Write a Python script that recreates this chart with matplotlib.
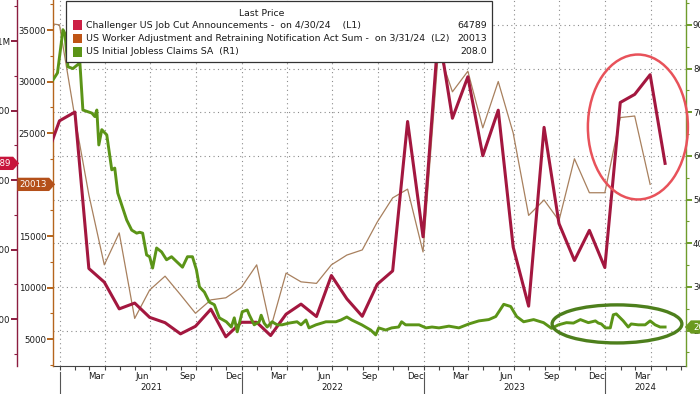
import matplotlib
matplotlib.use("Agg")
import matplotlib.pyplot as plt
from matplotlib.patches import Ellipse, Rectangle
from matplotlib.path import Path
from matplotlib.transforms import blended_transform_factory
import pandas as pd

# Challenger US job cut announcements, month end (L1)
cuts_dates = pd.date_range("2020-12-01", "2024-05-01", freq="MS") - pd.Timedelta(days=1)
cuts_values = [
    64797, 77030,
    79552, 34531, 30603, 22913, 24586, 20476, 18942, 15723, 17895, 22822, 14875, 19052,
    19064, 15245, 21387, 24286, 20712, 32517, 25810, 20781, 29989, 33843, 76835, 43651,
    102943, 77770, 89703, 66995, 80089, 40709, 23697, 75151, 47457, 36836, 45510, 34817,
    82307, 84638, 90309, 64789,
]

# WARN notices sum, month end (L2)
warn_dates = pd.date_range("2020-12-01", "2024-04-01", freq="MS") - pd.Timedelta(days=1)
warn_values = [
    35700, 35500,
    26500, 19000, 12200, 15300, 7000, 9750, 11100, 9300, 7500, 8800, 9000, 10000,
    12200, 6050, 11400, 10550, 10400, 12200, 13150, 13650, 16350, 18700, 19550, 13450,
    33000, 29000, 31000, 25500, 30000, 25000, 17000, 18500, 16500, 22500, 19200, 19200,
    26500, 26650, 20013,
]

# Initial jobless claims SA, thousands (R1)
claims_dates = [
    "2020-12-18", "2020-12-27", "2021-01-07", "2021-01-11", "2021-01-17", "2021-01-27",
    "2021-02-10", "2021-02-16", "2021-03-06", "2021-03-12", "2021-03-16", "2021-03-20",
    "2021-03-26", "2021-04-05", "2021-04-15", "2021-04-21", "2021-04-27", "2021-05-15",
    "2021-05-25", "2021-06-04", "2021-06-10", "2021-06-16", "2021-06-24", "2021-06-30",
    "2021-07-06", "2021-07-14", "2021-07-24", "2021-08-03", "2021-08-13", "2021-08-23",
    "2021-09-04", "2021-09-14", "2021-09-24", "2021-10-02", "2021-10-08", "2021-10-18",
    "2021-10-28", "2021-11-07", "2021-11-17", "2021-12-01", "2021-12-11", "2021-12-17",
    "2021-12-23", "2022-01-02", "2022-01-12", "2022-01-16", "2022-01-26", "2022-02-05",
    "2022-02-09", "2022-02-15", "2022-02-21", "2022-03-03", "2022-03-13", "2022-03-23",
    "2022-04-06", "2022-04-22", "2022-04-30", "2022-05-10", "2022-05-16", "2022-05-30",
    "2022-06-19", "2022-07-09", "2022-07-19", "2022-07-31", "2022-08-10", "2022-08-30",
    "2022-09-17", "2022-09-27", "2022-10-03", "2022-10-17", "2022-10-29", "2022-11-12",
    "2022-11-18", "2022-11-26", "2022-12-23", "2023-01-06", "2023-01-18", "2023-02-01",
    "2023-02-21", "2023-03-13", "2023-04-02", "2023-04-22", "2023-05-12", "2023-05-26",
    "2023-06-11", "2023-06-25", "2023-07-07", "2023-07-21", "2023-08-10", "2023-08-30",
    "2023-09-15", "2023-09-29", "2023-10-15", "2023-10-29", "2023-11-12", "2023-11-28",
    "2023-12-12", "2023-12-18", "2023-12-24", "2024-01-01", "2024-01-11", "2024-01-17",
    "2024-01-23", "2024-02-06", "2024-02-16", "2024-02-22", "2024-03-07", "2024-03-21",
    "2024-03-31", "2024-04-10", "2024-04-20", "2024-04-30",
]
claims_values = [
    774, 790, 889, 880, 804, 800,
    813, 705, 698, 690, 705, 625,
    660, 648, 568, 572, 515, 453,
    430, 423, 425, 423, 373, 369,
    343, 389, 380, 362, 369, 358,
    345, 369, 369, 339, 300, 288,
    265, 259, 229, 220, 208, 229,
    197, 243, 247, 236, 213, 220,
    235, 217, 208, 220, 213, 213,
    217, 220, 213, 224, 206, 213,
    220, 220, 224, 231, 224, 213,
    201, 190, 206, 201, 206, 208,
    220, 213, 213, 206, 208, 206,
    210, 206, 215, 222, 225, 232,
    260, 255, 232, 220, 225, 218,
    205, 213, 218, 217, 225, 218,
    222, 217, 215, 206, 206, 236,
    238, 222, 208, 215, 213, 213,
    222, 213, 208, 208,
]

legend_labels = [
    "Challenger US Job Cut Announcements -  on 4/30/24    (L1)",
    "US Worker Adjustment and Retraining Notification Act Sum -  on 3/31/24  (L2)",
    "US Initial Jobless Claims SA  (R1)",
]
legend_values = ["64789", "20013", "208.0"]

RED_LINE = "#a3173f"
RED_KEY = "#cc1f45"
BROWN_LINE = "#a8805e"
BROWN_KEY = "#bf5516"
GREEN = "#5b9417"
TEXT = "#1a1a1a"

W, H = 700, 394
FS = 6.2
LEG_FS = 6.75


def fx(px):
    return px / W


def fy(py):
    return 1 - py / H


def tag_style(pointing):
    def style(x0, y0, width, height, mutation_size):
        pad = 0.25 * mutation_size
        x0, y0 = x0 - pad, y0 - pad
        x1, y1 = x0 + width + 2 * pad, y0 + height + 2 * pad
        tip = (y1 - y0) * 0.45
        ym = (y0 + y1) / 2
        if pointing == "right":
            verts = [(x0, y0), (x1, y0), (x1 + tip, ym), (x1, y1), (x0, y1), (x0, y0)]
        else:
            verts = [(x0, y0), (x1, y0), (x1, y1), (x0, y1), (x0 - tip, ym), (x0, y0)]
        return Path(verts, closed=True)
    return style


plt.rcParams["font.family"] = ["DejaVu Sans"]
fig = plt.figure(figsize=(W / 100, H / 100), dpi=100)

ax = fig.add_axes([fx(53), fy(366), fx(686) - fx(53), 366 / H])
ax_l2 = ax.twinx()
ax_l1 = ax.twinx()
ax_r1 = ax.twinx()

x_start, x_end = pd.Timestamp("2020-12-18"), pd.Timestamp("2024-06-11")
ax.set_xlim(x_start, x_end)

# base axes: grid and date axis
r1_lim = (118.7, 957)
ax.set_ylim(*r1_lim)
ax.set_yticks(range(200, 1000, 100))
ax.tick_params(axis="y", left=False, labelleft=False)
ax.grid(axis="y", color="#8c8c8c", linestyle=(0, (1, 3)), linewidth=0.8)
for q in pd.date_range("2021-01-01", "2024-04-01", freq="QS"):
    ax.axvline(q, color="#8c8c8c", linestyle=(0, (1, 3)), linewidth=0.8, zorder=0)
for s in ["left", "right", "top"]:
    ax.spines[s].set_visible(False)
ax.spines["bottom"].set_color("#444444")
ax.spines["bottom"].set_linewidth(0.8)

label_months = [d for d in pd.date_range("2021-03-01", "2024-03-01", freq="MS") if d.month in (3, 6, 9, 12)]
ax.set_xticks([d + pd.Timedelta(days=14) for d in label_months])
ax.set_xticklabels([d.strftime("%b") for d in label_months], fontsize=FS, color=TEXT)
ax.set_xticks(pd.date_range("2021-01-01", "2024-06-01", freq="MS"), minor=True)
ax.tick_params(axis="x", which="major", length=0, pad=4.5)
ax.tick_params(axis="x", which="minor", length=3, width=0.8, color="#444444", direction="out")

xt = blended_transform_factory(ax.transData, ax.transAxes)
year_starts = [pd.Timestamp(f"{y}-01-01") for y in (2021, 2022, 2023, 2024)]
for i, ys in enumerate(year_starts):
    ax.plot([ys, ys], [-0.016, -0.08], color="#555555", lw=0.8, transform=xt, clip_on=False)
    ye = year_starts[i + 1] if i + 1 < len(year_starts) else x_end
    mid = ys + (ye - ys) / 2
    ax.text(mid, -0.06, str(ys.year), transform=xt, ha="center", va="center",
            fontsize=FS, color=TEXT)

# L2 axis: WARN notices
ax_l2.plot(warn_dates, warn_values, color=BROWN_LINE, lw=0.9, zorder=2)
ax_l2.set_ylim(2379, 37913)
ax_l2.yaxis.tick_left()
ax_l2.set_yticks(range(5000, 40000, 5000))
ax_l2.set_yticklabels([str(v) for v in range(5000, 40000, 5000)], fontsize=FS, color=TEXT)
ax_l2.set_yticks(range(2500, 40000, 2500), minor=True)
ax_l2.tick_params(axis="y", which="major", length=4, width=1.4, color="#b5651d", pad=1)
ax_l2.tick_params(axis="y", which="minor", length=2.5, width=0.8, color="#b5651d")
for s in ["right", "top", "bottom"]:
    ax_l2.spines[s].set_visible(False)
ax_l2.spines["left"].set_color("#b5651d")
ax_l2.spines["left"].set_linewidth(1.0)

# L1 axis: Challenger job cuts, outer left
ax_l1.plot(cuts_dates, cuts_values, color=RED_LINE, lw=2.2, zorder=3)
ax_l1.set_ylim(6475, 111800)
ax_l1.yaxis.tick_left()
ax_l1.spines["left"].set_position(("outward", 36 * 72 / 100))
ax_l1.set_yticks([20000, 40000, 60000, 80000, 100000])
ax_l1.set_yticklabels(["20000", "40000", "60000", "80000", "0.1M"], fontsize=FS, color=TEXT)
ax_l1.set_yticks(range(10000, 111000, 10000), minor=True)
ax_l1.tick_params(axis="y", which="major", length=4, width=1.4, color="#8c1d40", pad=1)
ax_l1.tick_params(axis="y", which="minor", length=2.5, width=0.8, color="#8c1d40")
for s in ["right", "top", "bottom"]:
    ax_l1.spines[s].set_visible(False)
ax_l1.spines["left"].set_color("#8c1d40")
ax_l1.spines["left"].set_linewidth(1.0)

# R1 axis: initial jobless claims
ax_r1.plot(pd.to_datetime(claims_dates), claims_values, color=GREEN, lw=2.1, zorder=4)
ax_r1.set_ylim(*r1_lim)
ax_r1.yaxis.tick_right()
ax_r1.set_yticks(range(200, 1000, 100))
ax_r1.set_yticklabels([str(v) for v in range(200, 1000, 100)], fontsize=FS, color=TEXT)
ax_r1.set_yticks(range(150, 960, 50), minor=True)
ax_r1.tick_params(axis="y", which="major", length=4, width=1.4, color="#6f9c2c", pad=1)
ax_r1.tick_params(axis="y", which="minor", length=2.5, width=0.8, color="#6f9c2c")
for s in ["left", "top", "bottom"]:
    ax_r1.spines[s].set_visible(False)
ax_r1.spines["right"].set_color("#6f9c2c")
ax_r1.spines["right"].set_linewidth(1.0)

# last-value badges on the axes
badge = dict(fontsize=FS, color="white", va="center", zorder=30)
fig.text(fx(11), cuts_values[-1], legend_values[0], ha="right",
         transform=blended_transform_factory(fig.transFigure, ax_l1.transData),
         bbox=dict(boxstyle=tag_style("right"), fc="#c8143c", ec="none"), **badge)
fig.text(fx(47), warn_values[-1], legend_values[1], ha="right",
         transform=blended_transform_factory(fig.transFigure, ax_l2.transData),
         bbox=dict(boxstyle=tag_style("right"), fc="#b4501a", ec="none"), **badge)
fig.text(fx(693), claims_values[-1], legend_values[2], ha="left",
         transform=blended_transform_factory(fig.transFigure, ax_r1.transData),
         bbox=dict(boxstyle=tag_style("left"), fc="#6a9a1f", ec="none"), **badge)

# highlight ellipses
ax_r1.add_patch(Ellipse((0.924, 0.653), 0.158, 0.396, transform=ax_r1.transAxes,
                        fill=False, ec="#e8525a", lw=1.8, clip_on=False, zorder=10))
ax_r1.add_patch(Ellipse((0.891, 0.115), 0.205, 0.104, transform=ax_r1.transAxes,
                        fill=False, ec="#4d7f1c", lw=2.4, clip_on=False, zorder=10))

# legend box
fig.add_artist(Rectangle((fx(66), fy(62)), fx(492) - fx(66), 61 / H, transform=fig.transFigure,
                         fc="white", ec="#333333", lw=0.9, zorder=20))
fig.text(fx(262), fy(13), "Last Price", ha="center", va="center", fontsize=LEG_FS,
         color=TEXT, zorder=21)
keys = [RED_KEY, BROWN_KEY, GREEN]
for i, (lab, val, col) in enumerate(zip(legend_labels, legend_values, keys)):
    yy = 25 + i * 13.5
    fig.add_artist(Rectangle((fx(73), fy(yy + 4.5)), fx(9), 9 / H, transform=fig.transFigure,
                             fc=col, ec="none", zorder=21))
    fig.text(fx(86), fy(yy), lab, ha="left", va="center", fontsize=LEG_FS, color=TEXT, zorder=21)
    fig.text(fx(487), fy(yy), val, ha="right", va="center", fontsize=LEG_FS, color=TEXT, zorder=21)

fig.savefig("out.png", dpi=100)
plt.close(fig)
